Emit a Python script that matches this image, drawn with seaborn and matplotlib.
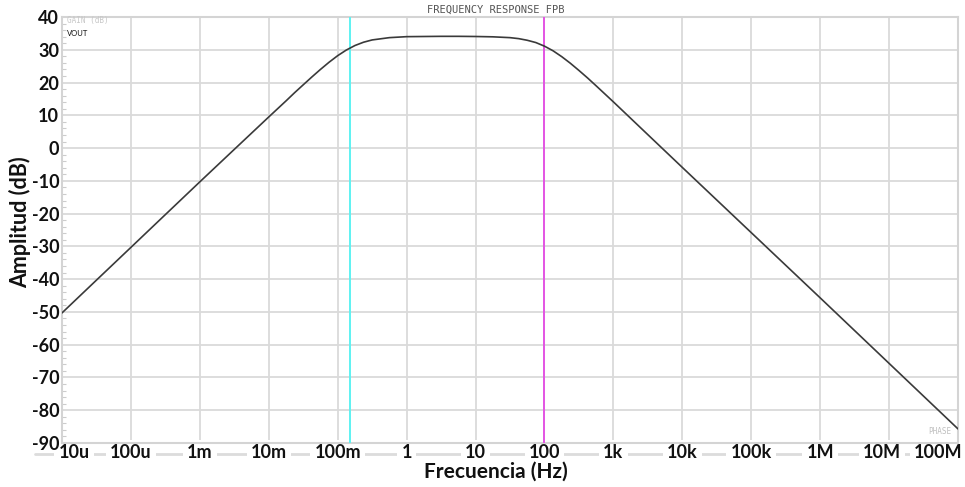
import numpy as np
import pandas as pd
import matplotlib
matplotlib.use("Agg")
import matplotlib.pyplot as plt
import matplotlib.transforms as mtransforms
from matplotlib.lines import Line2D
import seaborn as sns

# ---- data ----
freq_hz = [1e-5, 3.16e-5, 1e-4, 3.16e-4, 1e-3, 3.16e-3, 0.01, 0.0178, 0.0237, 0.0316, 0.0422,
           0.0562, 0.075, 0.1, 0.133, 0.178, 0.237, 0.316, 0.562, 1, 1.78, 3.16, 5.62, 10,
           17.8, 31.6, 42.2, 56.2, 75, 100, 133, 178, 237, 316, 422, 562, 1000, 3160,
           1e4, 1e5, 1e6, 1e7, 1e8]
gain_db = [-50.3, -40.3, -30.3, -20.3, -10.3, -0.4, 9.5, 14.4, 16.9, 19.3, 21.7,
           24.0, 26.2, 28.2, 29.9, 31.3, 32.3, 33.0, 33.7, 34.0, 34.05, 34.1, 34.1, 34.05,
           33.95, 33.7, 33.4, 32.9, 32.2, 31.1, 29.7, 27.9, 25.9, 23.7, 21.4, 19.0, 14.1, 4.1,
           -5.9, -25.8, -45.7, -65.7, -85.7]
cursor_low_hz = 0.15
cursor_high_hz = 97
x_ticks = [1e-5, 1e-4, 1e-3, 1e-2, 1e-1, 1, 10, 100, 1e3, 1e4, 1e5, 1e6, 1e7, 1e8]
x_tick_labels = ["10u", "100u", "1m", "10m", "100m", "1", "10", "100", "1k", "10k",
                 "100k", "1M", "10M", "100M"]
y_ticks = list(range(-90, 41, 10))

df = pd.DataFrame({"freq": freq_hz, "gain": gain_db})

sns.set_theme(style="white")
plt.rcParams["font.family"] = ["Lato", "DejaVu Sans"]
plt.rcParams["axes.unicode_minus"] = False

W, H = 965, 487
fig = plt.figure(figsize=(W / 100, H / 100), dpi=100)
L, R, T, B = 62, 958, 17, 443
ax = fig.add_axes([L / W, 1 - B / H, (R - L) / W, (B - T) / H])

sns.lineplot(data=df, x="freq", y="gain", ax=ax, color="#3a3a3a", linewidth=1.2, zorder=5)
ax.axvline(cursor_low_hz, color="#5ef2f2", linewidth=1.4, zorder=4)
ax.axvline(cursor_high_hz, color="#e455e4", linewidth=1.4, zorder=4)

ax.set_xscale("log")
ax.set_xlim(1e-5, 1e8)
ax.set_ylim(-90, 40)
ax.set_xticks(x_ticks)
ax.set_xticklabels(x_tick_labels)
ax.set_yticks(y_ticks)
ax.minorticks_off()
ax.set_yticks(list(range(-90, 41, 2)), minor=True)
ax.tick_params(axis="y", which="minor", direction="in", length=3, color="#cccccc", width=0.8, left=True)
ax.tick_params(axis="x", which="minor", bottom=False)

ax.grid(True, which="major", color="#dadada", linewidth=1.3)
for s in ax.spines.values():
    s.set_color("#d4d4d4")
    s.set_linewidth(1.5)

ax.tick_params(axis="y", which="major", length=0, pad=2, labelsize=13)
ax.tick_params(axis="x", which="major", length=0, pad=1, labelsize=13)
for lab in ax.get_yticklabels() + ax.get_xticklabels():
    lab.set_fontweight("bold")
    lab.set_color("#111111")

# shift end labels like the reference
shifts = {0: 12, 12: -7, 13: -20}
for i, lab in enumerate(ax.get_xticklabels()):
    lab.set_bbox(dict(facecolor="white", edgecolor="none", pad=3))
    if i in shifts:
        off = mtransforms.ScaledTranslation(shifts[i] / 100, 0, fig.dpi_scale_trans)
        lab.set_transform(lab.get_transform() + off)

# gray rule behind the x tick labels
fig.add_artist(Line2D([35 / W, 958 / W], [1 - 454 / H] * 2, color="#dcdcdc", linewidth=2.0,
                      transform=fig.transFigure, zorder=-1))

ax.set_xlabel("Frecuencia (Hz)", fontsize=15, fontweight="bold", color="#111111")
ax.set_ylabel("Amplitud (dB)", fontsize=15.5, fontweight="bold", color="#111111")
ax.xaxis.set_label_coords((496 - L) / (R - L), (B - 472) / (B - T))
ax.xaxis.label.set_va("center")
ax.yaxis.set_label_coords((20 - L) / (R - L), (B - 222) / (B - T))
ax.yaxis.label.set_va("center")

ax.text((496 - L) / (R - L), (B - 10) / (B - T), "FREQUENCY RESPONSE FPB", transform=ax.transAxes,
        ha="center", va="center", fontsize=7.5, family="DejaVu Sans Mono", color="#555555")
ax.text((67 - L) / (R - L), (B - 21) / (B - T), "GAIN (dB)", transform=ax.transAxes,
        ha="left", va="center", fontsize=5.5, family="DejaVu Sans Mono", color="#c8c8c8")
ax.text((67 - L) / (R - L), (B - 34) / (B - T), "VOUT", transform=ax.transAxes,
        ha="left", va="center", fontsize=5.5, color="#111111")
ax.text((951 - L) / (R - L), (B - 432) / (B - T), "PHASE", transform=ax.transAxes,
        ha="right", va="center", fontsize=5.5, family="DejaVu Sans Mono", color="#c0c0c0")

fig.savefig("out.png", dpi=100)
